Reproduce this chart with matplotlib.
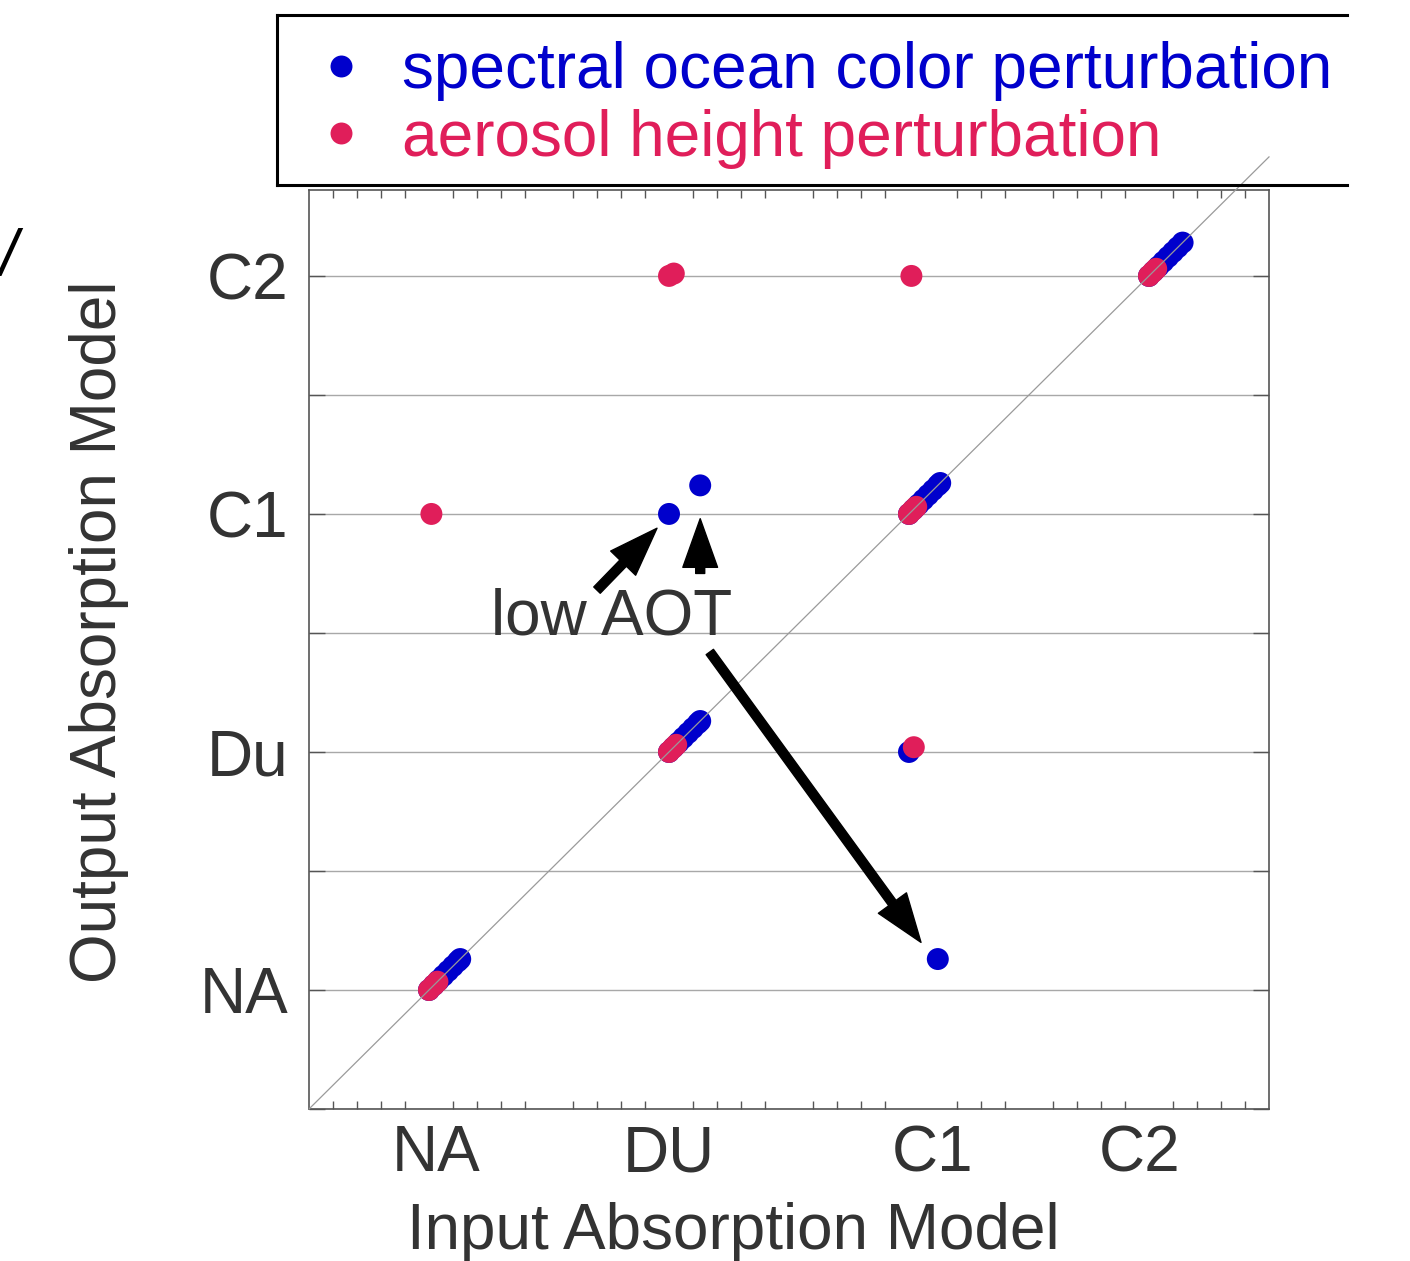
import numpy as np
import matplotlib
matplotlib.use("Agg")
import matplotlib.pyplot as plt
from matplotlib.lines import Line2D

plt.rcParams['font.family'] = ['Liberation Sans', 'DejaVu Sans']

# ---------------- data ----------------
# category index: NA=0, DU=1, C1=2, C2=3 (small offsets = individual retrievals)
blue_input = [0.00, 0.02, 0.04, 0.06, 0.08, 0.10, 0.12, 0.13,
              1.00, 1.02, 1.04, 1.06, 1.08, 1.10, 1.12, 1.13,
              2.00, 2.02, 2.04, 2.06, 2.08, 2.10, 2.12, 2.13,
              3.00, 3.02, 3.04, 3.06, 3.08, 3.10, 3.12, 3.14,
              1.00, 1.13, 2.00, 2.12]
blue_output = [0.00, 0.02, 0.04, 0.06, 0.08, 0.10, 0.12, 0.13,
               1.00, 1.02, 1.04, 1.06, 1.08, 1.10, 1.12, 1.13,
               2.00, 2.02, 2.04, 2.06, 2.08, 2.10, 2.12, 2.13,
               3.00, 3.02, 3.04, 3.06, 3.08, 3.10, 3.12, 3.14,
               2.00, 2.12, 1.00, 0.13]

red_input = [0.00, 0.02, 0.035,
             1.00, 1.015, 1.03,
             2.00, 2.015, 2.03,
             3.00, 3.015, 3.03,
             1.00, 1.02, 2.01, 0.01, 2.02]
red_output = [0.00, 0.02, 0.035,
              1.00, 1.015, 1.03,
              2.00, 2.015, 2.03,
              3.00, 3.015, 3.03,
              3.00, 3.01, 3.00, 2.00, 1.02]

x_tick_pos = [0.03, 1.00, 2.10, 2.96]
x_tick_labels = ['NA', 'DU', 'C1', 'C2']
y_tick_pos = [-0.5, 0.0, 0.5, 1.0, 1.5, 2.0, 2.5, 3.0]
y_tick_labels = ['', 'NA', '', 'Du', '', 'C1', '', 'C2']

series_labels = ['spectral ocean color perturbation', 'aerosol height perturbation']
blue = '#0000CC'
red = '#E01E5A'
txt = '#333333'

# ---------------- figure ----------------
W, H = 1410, 1261
fig = plt.figure(figsize=(W / 100, H / 100), dpi=100)
ax = fig.add_axes([309 / W, 1 - 1109 / H, (1269 - 309) / W, (1109 - 190) / H])
ax.set_xlim(-0.5, 3.5)
ax.set_ylim(-0.5, 3.361)

ms = 250
ax.scatter(blue_input, blue_output, s=ms, color=blue, edgecolors='none', zorder=3)
ax.scatter(red_input, red_output, s=ms, color=red, edgecolors='none', zorder=4)

# 1:1 line
ax.plot([-0.5, 3.5], [-0.5, 3.5], color='#9a9a9a', lw=0.9, zorder=5, clip_on=False)

# ticks
ax.set_xticks(x_tick_pos)
ax.set_xticklabels(x_tick_labels)
minor = [v for v in np.round(np.arange(-0.4, 3.45, 0.1), 2) if abs(v * 2 - round(v * 2)) > 1e-6]
ax.set_xticks(minor, minor=True)
ax.tick_params(axis='x', which='major', length=0, pad=11, labelsize=46, labelcolor=txt)
ax.tick_params(axis='x', which='minor', direction='in', length=6, width=1,
               color='#555555', top=True, bottom=True)
ax.set_yticks(y_tick_pos)
ax.set_yticklabels(y_tick_labels)
ax.tick_params(axis='y', which='major', direction='in', length=11.5, width=1,
               color='#555555', left=True, right=True, pad=15, labelsize=46, labelcolor=txt)
ax.yaxis.grid(True, color='#a8a8a8', lw=1.0)
ax.set_axisbelow(True)
for sp in ax.spines.values():
    sp.set_color('#555555')
    sp.set_linewidth(1.2)

# axis labels
ax.set_xlabel('Input Absorption Model', fontsize=46, color=txt)
ax.xaxis.set_label_coords((733 - 309) / 960, (1109 - 1232) / 919)
ax.xaxis.label.set_verticalalignment('center')
ax.set_ylabel('Output Absorption Model', fontsize=46, color=txt)
ax.yaxis.set_label_coords((99 - 309) / 960, (1109 - 632) / 919)
ax.yaxis.label.set_verticalalignment('center')

# annotation
ax.text(0.76, 1.567, 'low AOT', fontsize=46, color=txt, ha='center', va='center', zorder=6)
astyle = dict(arrowstyle='simple,head_length=1.4,head_width=1.0,tail_width=0.26',
              mutation_scale=25, color='black', shrinkA=0, shrinkB=0)
ax.annotate('', xy=(0.95, 1.94), xytext=(0.70, 1.68), arrowprops=astyle, zorder=6)
ax.annotate('', xy=(1.13, 1.98), xytext=(1.13, 1.75), arrowprops=astyle, zorder=6)
ax.annotate('', xy=(2.05, 0.20), xytext=(1.17, 1.42), arrowprops=astyle, zorder=6)

# legend
handles = [Line2D([], [], ls='none', marker='o', markersize=15.8, color=blue, markeredgewidth=0),
           Line2D([], [], ls='none', marker='o', markersize=15.8, color=red, markeredgewidth=0)]
leg = fig.legend(handles, series_labels, loc='upper left',
                 bbox_to_anchor=(277 / W, 1 - 9 / H), frameon=False, fontsize=46,
                 borderpad=0.5, borderaxespad=0, handlelength=1.0, handletextpad=0.45,
                 labelspacing=0.12)
leg.get_texts()[0].set_color(blue)
leg.get_texts()[1].set_color(red)
# legend frame (right side cut off in the original)
for (x0, y0, x1, y1) in [(277, 15, 1347, 15), (277, 185, 1347, 185), (277, 15, 277, 185)]:
    fig.add_artist(Line2D([x0 / W, x1 / W], [1 - y0 / H, 1 - y1 / H], color='black',
                          lw=2.2, transform=fig.transFigure, solid_capstyle='projecting'))

# fragment of neighbouring panel at left edge
fig.text(8 / W, 1 - 258 / H, '/', fontsize=46, color='black', ha='center', va='center',
         style='italic')

fig.savefig('out.png', dpi=100)
